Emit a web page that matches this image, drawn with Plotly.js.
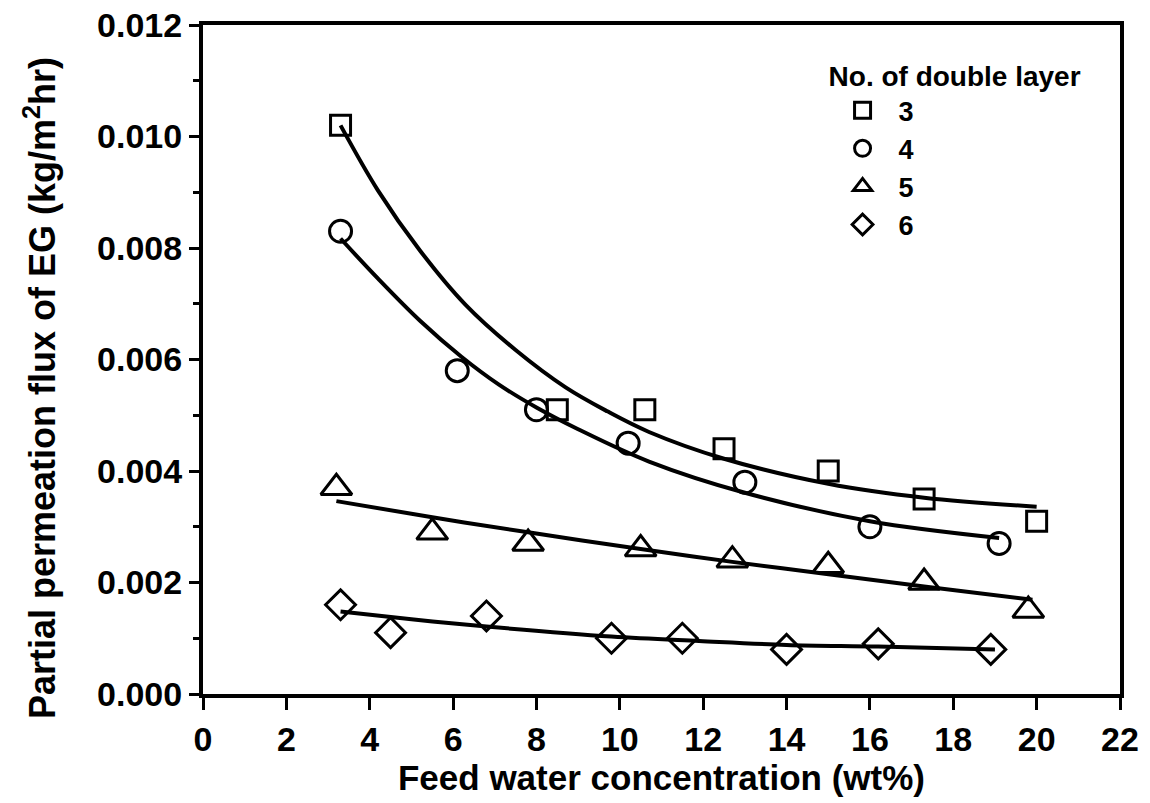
<!DOCTYPE html>
<html>
<head>
<meta charset="utf-8">
<script src="https://cdn.plot.ly/plotly-3.0.1.min.js"></script>
<style>html,body{margin:0;padding:0;background:#fff;}#chart{width:1150px;height:803px;}</style>
</head>
<body>
<div id="chart"></div>
<script>
// Measured points (feed water wt%, flux kg/m2hr)
var x3 = [3.3, 8.5, 10.6, 12.5, 15.0, 17.3, 20.0];
var y3 = [0.0102, 0.0051, 0.0051, 0.0044, 0.0040, 0.0035, 0.0031];
var x4 = [3.3, 6.1, 8.0, 10.2, 13.0, 16.0, 19.1];
var y4 = [0.0083, 0.0058, 0.0051, 0.0045, 0.0038, 0.0030, 0.0027];
var x5 = [3.2, 5.5, 7.8, 10.5, 12.7, 15.0, 17.3, 19.8];
var y5 = [0.0037, 0.0029, 0.0027, 0.0026, 0.0024, 0.0023, 0.0020, 0.0015];
var x6 = [3.3, 4.5, 6.8, 9.8, 11.5, 14.0, 16.2, 18.9];
var y6 = [0.0016, 0.0011, 0.0014, 0.0010, 0.0010, 0.0008, 0.0009, 0.0008];

// Fitted curves
var fx3 = [3.3, 4.2, 5.2, 6.3, 7.5, 8.7, 9.7, 10.7, 12.5, 15.0, 17.3, 20.0];
var fy3 = [0.0102, 0.00903, 0.00796, 0.00698, 0.00617, 0.0055, 0.00507, 0.0047, 0.00422, 0.00377, 0.00352, 0.00336];
var fx4 = [3.3, 4.2, 5.2, 6.2, 7.1, 8.0, 9.0, 10.7, 13.0, 16.0, 19.1];
var fy4 = [0.00817, 0.00745, 0.0067, 0.00605, 0.00555, 0.00514, 0.00475, 0.00417, 0.00361, 0.0031, 0.0028];
var fx5 = [3.2, 5.5, 7.8, 10.5, 12.7, 15.1, 17.3, 19.9];
var fy5 = [0.00346, 0.00317, 0.00290, 0.00260, 0.00237, 0.00214, 0.00193, 0.00169];
var fx6 = [3.3, 5.0, 6.8, 9.8, 11.9, 14.0, 16.2, 19.0];
var fy6 = [0.00148, 0.00134, 0.00121, 0.00103, 0.00095, 0.00088, 0.00085, 0.00080];

var legendNames = ['3', '4', '5', '6'];
var legendTitle = 'No. of double layer';
var xTitle = 'Feed water concentration (wt%)';
var yTitle = 'Partial permeation flux of EG (kg/m<sup>2</sup>hr)';

var FONT = 'Liberation Sans, Arial, Helvetica, sans-serif';

function pts(x, y, name, symbol, size) {
  return {
    x: x, y: y, type: 'scatter', mode: 'markers', name: name,
    legendgroup: name,
    marker: {symbol: symbol, size: size, color: '#000',
             line: {color: '#000', width: 3}},
    cliponaxis: false
  };
}
function fit(x, y) {
  return {
    x: x, y: y, type: 'scatter', mode: 'lines', showlegend: false,
    line: {color: '#000', width: 4, shape: 'spline', smoothing: 1}
  };
}

var data = [
  fit(fx3, fy3), fit(fx4, fy4), fit(fx5, fy5), fit(fx6, fy6),
  pts(x3, y3, legendNames[0], 'square-open', 20),
  pts(x4, y4, legendNames[1], 'circle-open', 22),
  pts(x5, y5, legendNames[2], 'triangle-up-open', 27),
  pts(x6, y6, legendNames[3], 'diamond-open', 23)
];

var layout = {
  width: 1150, height: 803,
  margin: {l: 203, r: 30, t: 25, b: 109},
  paper_bgcolor: '#fff', plot_bgcolor: '#fff',
  font: {family: FONT, color: '#000'},
  showlegend: true,
  legend: {
    x: 0.68, y: 0.963, xanchor: 'left', yanchor: 'top',
    bgcolor: 'rgba(0,0,0,0)',
    itemwidth: 62,
    font: {family: FONT, size: 27, weight: 'bold'},
    title: {text: legendTitle, font: {family: FONT, size: 28, weight: 'bold'}},
    traceorder: 'grouped', tracegroupgap: 0
  },
  annotations: [{
    text: yTitle, xref: 'paper', yref: 'paper',
    x: -0.178, y: 0.457, xanchor: 'center', yanchor: 'middle',
    textangle: -90, showarrow: false,
    font: {family: FONT, size: 36, weight: 'bold', color: '#000'}
  }],
  xaxis: {
    range: [0, 22], dtick: 2, tick0: 0,
    showgrid: false, zeroline: false,
    showline: true, linewidth: 4, linecolor: '#000', mirror: true,
    ticks: 'outside', ticklen: 12, tickwidth: 3, tickcolor: '#000',
    tickfont: {family: FONT, size: 34, weight: 'bold'},
    title: {text: xTitle, font: {family: FONT, size: 35, weight: 'bold'}, standoff: 6}
  },
  yaxis: {
    range: [0, 0.012], dtick: 0.002, tick0: 0, tickformat: '.3f',
    showgrid: false, zeroline: false,
    showline: true, linewidth: 4, linecolor: '#000', mirror: true,
    ticks: 'outside', ticklen: 10, tickwidth: 3, tickcolor: '#000',
    minor: {dtick: 0.001, ticks: 'outside', ticklen: 6, tickwidth: 3, tickcolor: '#000'},
    tickfont: {family: FONT, size: 34, weight: 'bold'}
  },
  xaxis2: {
    overlaying: 'x', side: 'top', range: [0, 22], dtick: 2,
    showgrid: false, zeroline: false, showline: false,
    ticks: 'inside', ticklen: 5, tickwidth: 3, tickcolor: '#000',
    showticklabels: false
  },
  yaxis2: {
    overlaying: 'y', side: 'right', range: [0, 0.012], dtick: 0.001,
    showgrid: false, zeroline: false, showline: false,
    ticks: 'inside', ticklen: 6, tickwidth: 3, tickcolor: '#000',
    showticklabels: false
  }
};

Plotly.newPlot('chart', data, layout, {displayModeBar: false, staticPlot: true});
</script>
</body>
</html>
